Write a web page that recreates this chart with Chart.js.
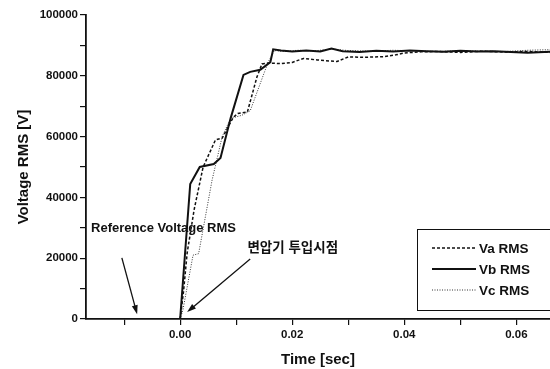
<!DOCTYPE html>
<html>
<head>
<meta charset="utf-8">
<script src="https://cdn.jsdelivr.net/npm/chart.js@4.4.1/dist/chart.umd.min.js"></script>
<style>
    html, body { margin: 0; padding: 0; background: #fff; }
    #wrap { width: 550px; height: 369px; }
</style>
</head>
<body>
<div id="wrap"><canvas id="rmsChart"></canvas></div>
<script>
// time [sec] / voltage [V]
const timeA = [0, 0.0006, 0.00125, 0.0025, 0.0041, 0.0063, 0.0075, 0.0095, 0.0103, 0.0120, 0.0137, 0.0146, 0.0160, 0.0180, 0.0200, 0.0220, 0.0245, 0.0280, 0.0300, 0.0330, 0.0365, 0.0385, 0.0400, 0.0430, 0.0460, 0.0500, 0.0540, 0.0580, 0.0620, 0.0660];
const voltA = [0, 9000, 21700, 36000, 50000, 58900, 59500, 66400, 67600, 68100, 79600, 83900, 84200, 84000, 84400, 85700, 85200, 84700, 86200, 86100, 86300, 86900, 87500, 87900, 88000, 87700, 88100, 87800, 88000, 87700];

const timeB = [0, 0.0018, 0.0035, 0.0060, 0.0072, 0.0090, 0.0113, 0.0125, 0.0143, 0.0161, 0.0166, 0.0180, 0.0200, 0.0225, 0.0250, 0.0270, 0.0290, 0.0320, 0.0350, 0.0380, 0.0410, 0.0440, 0.0470, 0.0500, 0.0530, 0.0560, 0.0590, 0.0620, 0.0660];
const voltB = [0, 44400, 50000, 51000, 53000, 66000, 80300, 81300, 82000, 84500, 88700, 88300, 88000, 88300, 88000, 89000, 88100, 87800, 88200, 88000, 88300, 88100, 87900, 88200, 88000, 88100, 87800, 87600, 87900];

const timeC = [0, 0.0005, 0.0023, 0.0033, 0.0057, 0.0075, 0.0090, 0.0110, 0.0125, 0.0157, 0.0168, 0.0185, 0.0210, 0.0240, 0.0270, 0.0300, 0.0340, 0.0380, 0.0420, 0.0460, 0.0500, 0.0540, 0.0580, 0.0620, 0.0660];
const voltC = [0, 3000, 21000, 21500, 45700, 60000, 66000, 67000, 68500, 84500, 88300, 88000, 88400, 88200, 88800, 88300, 88100, 88400, 88200, 88000, 88300, 88100, 88000, 88400, 88600];

const seriesNames = ['Va RMS', 'Vb RMS', 'Vc RMS'];
const xTicks = [-0.01, 0, 0.01, 0.02, 0.03, 0.04, 0.05, 0.06];
const yTicks = [0, 10000, 20000, 30000, 40000, 50000, 60000, 70000, 80000, 90000, 100000];

function toPoints(ts, vs) {
    return ts.map((t, i) => ({ x: t, y: vs[i] }));
}

const ink = '#111';
const font = 'Liberation Sans, Arial, sans-serif';

// annotation text + arrows, anchored in data units
const notes = [
    { text: 'Reference Voltage RMS', tx: -0.0159, ty: 29800, size: 13, from: [-0.0104, 20100], to: [-0.00768, 1600] },
    { text: '변압기 투입시점', tx: 0.0120, ty: 23400, size: 13.5, from: [0.0125, 19700], to: [0.00125, 2300] }
];

const notesPlugin = {
    id: 'notes',
    afterDatasetsDraw(chart) {
        const ctx = chart.ctx;
        const xs = chart.scales.x, ys = chart.scales.y;
        ctx.save();
        notes.forEach(n => {
            ctx.fillStyle = ink;
            ctx.strokeStyle = ink;
            ctx.font = 'bold ' + n.size + 'px ' + font + ', "Noto Sans CJK KR"';
            ctx.textBaseline = 'middle';
            ctx.textAlign = 'left';
            ctx.fillText(n.text, xs.getPixelForValue(n.tx), ys.getPixelForValue(n.ty));

            const x1 = xs.getPixelForValue(n.from[0]), y1 = ys.getPixelForValue(n.from[1]);
            const x2 = xs.getPixelForValue(n.to[0]), y2 = ys.getPixelForValue(n.to[1]);
            const ang = Math.atan2(y2 - y1, x2 - x1);
            ctx.lineWidth = 1.3;
            ctx.beginPath();
            ctx.moveTo(x1, y1);
            ctx.lineTo(x2 - 6 * Math.cos(ang), y2 - 6 * Math.sin(ang));
            ctx.stroke();
            ctx.beginPath();
            ctx.moveTo(x2, y2);
            ctx.lineTo(x2 - 9 * Math.cos(ang) + 3 * Math.sin(ang), y2 - 9 * Math.sin(ang) - 3 * Math.cos(ang));
            ctx.lineTo(x2 - 9 * Math.cos(ang) - 3 * Math.sin(ang), y2 - 9 * Math.sin(ang) + 3 * Math.cos(ang));
            ctx.closePath();
            ctx.fill();
        });
        ctx.restore();
    }
};

// boxed legend in the lower right corner, like the original figure
const legendBoxPlugin = {
    id: 'legendBox',
    afterDatasetsDraw(chart) {
        const ctx = chart.ctx;
        const left = 417, top = 229, bottom = 310;
        ctx.save();
        ctx.fillStyle = '#fff';
        ctx.fillRect(left, top, 560 - left, bottom - top);
        ctx.strokeStyle = ink;
        ctx.lineWidth = 1;
        ctx.strokeRect(left + 0.5, top + 0.5, 560 - left, bottom - top);
        chart.data.datasets.forEach((ds, i) => {
            const y = 248 + i * 21;
            ctx.strokeStyle = ds.borderColor;
            ctx.lineWidth = ds.borderWidth;
            ctx.setLineDash(ds.borderDash || []);
            ctx.beginPath();
            ctx.moveTo(432, y);
            ctx.lineTo(476, y);
            ctx.stroke();
            ctx.setLineDash([]);
            ctx.fillStyle = ink;
            ctx.font = 'bold 13.5px ' + font;
            ctx.textBaseline = 'middle';
            ctx.fillText(ds.label, 479, y + 1);
        });
        ctx.restore();
    }
};

new Chart(document.getElementById('rmsChart'), {
    type: 'line',
    data: {
        datasets: [
            {
                label: seriesNames[0],
                data: toPoints(timeA, voltA),
                borderColor: ink,
                borderWidth: 1.5,
                borderDash: [3, 2]
            },
            {
                label: seriesNames[1],
                data: toPoints(timeB, voltB),
                borderColor: ink,
                borderWidth: 2
            },
            {
                label: seriesNames[2],
                data: toPoints(timeC, voltC),
                borderColor: '#333',
                borderWidth: 1,
                borderDash: [1, 1.5]
            }
        ]
    },
    options: {
        responsive: true,
        maintainAspectRatio: false,
        animation: false,
        devicePixelRatio: 1,
        layout: { padding: { top: 15, right: 0, bottom: 0, left: 0 } },
        elements: { point: { radius: 0 }, line: { tension: 0 } },
        scales: {
            x: {
                type: 'linear',
                min: -0.0168,
                max: 0.066,
                afterBuildTicks: axis => { axis.ticks = xTicks.map(v => ({ value: v })); },
                afterFit: axis => { axis.height = 50; },
                ticks: {
                    color: ink,
                    font: { family: font, size: 11.5, weight: 'bold' },
                    padding: 3,
                    maxRotation: 0,
                    autoSkip: false,
                    callback: v => (Math.round(v * 100) % 2 === 0 ? v.toFixed(2) : '')
                },
                grid: { drawOnChartArea: false, drawTicks: true, tickLength: 6, color: ink, lineWidth: 1.2 },
                border: { color: ink, width: 1.8 },
                title: {
                    display: true,
                    text: 'Time [sec]',
                    color: ink,
                    font: { family: font, size: 15, weight: 'bold' },
                    padding: { top: 10, bottom: 0 }
                }
            },
            y: {
                min: 0,
                max: 100000,
                afterBuildTicks: axis => { axis.ticks = yTicks.map(v => ({ value: v })); },
                afterFit: axis => { axis.width = 86; },
                ticks: {
                    color: ink,
                    font: { family: font, size: 11.5, weight: 'bold' },
                    padding: 2,
                    autoSkip: false,
                    callback: v => (v % 20000 === 0 ? String(v) : '')
                },
                grid: { drawOnChartArea: false, drawTicks: true, tickLength: 6, color: ink, lineWidth: 1.2 },
                border: { color: ink, width: 1.8 },
                title: {
                    display: true,
                    text: 'Voltage RMS [V]',
                    color: ink,
                    font: { family: font, size: 15, weight: 'bold' },
                    padding: { top: 15, bottom: 0 }
                }
            }
        },
        plugins: {
            legend: { display: false },
            tooltip: { enabled: false }
        }
    },
    plugins: [notesPlugin, legendBoxPlugin]
});
</script>
</body>
</html>
